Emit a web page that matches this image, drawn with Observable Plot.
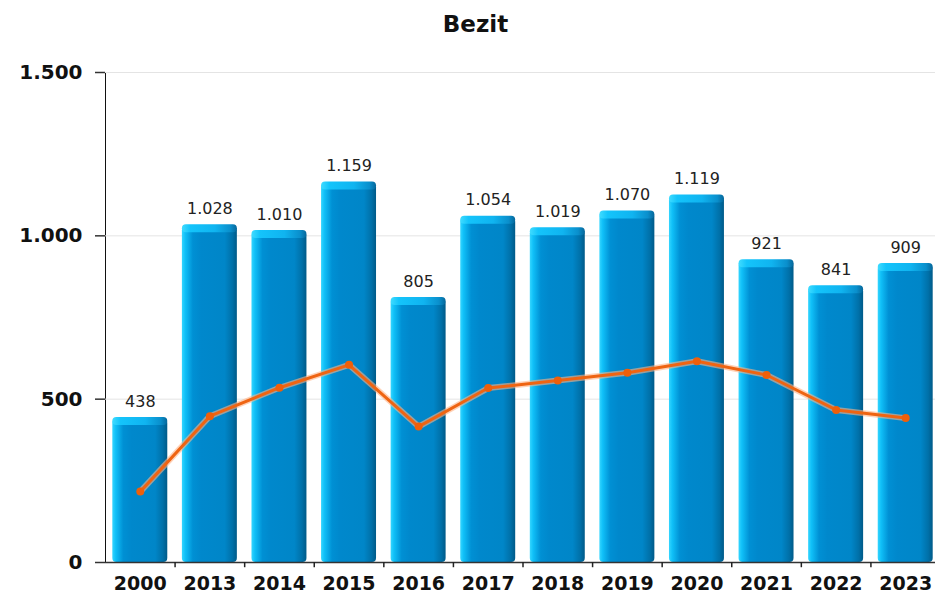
<!DOCTYPE html>
<html>
<head>
<meta charset="utf-8">
<script src="https://cdn.jsdelivr.net/npm/d3@7"></script>
<script src="https://cdn.jsdelivr.net/npm/@observablehq/plot@0.6"></script>
<style>
  body { margin: 0; background: #fff; width: 935px; height: 595px; overflow: hidden; }
  #title { height: 48px; box-sizing: border-box; padding-top: 10px; padding-left: 16px; text-align: center;
           font-family: "DejaVu Sans", sans-serif; font-weight: bold; font-size: 23px; color: #111; line-height: 28px; }
  #chart svg { display: block; }
</style>
</head>
<body>
<div id="title">Bezit</div>
<div id="chart"></div>
<script>
const years = ["2000","2013","2014","2015","2016","2017","2018","2019","2020","2021","2022","2023"];
const totals = [438, 1028, 1010, 1159, 805, 1054, 1019, 1070, 1119, 921, 841, 909];
const lineValues = [217, 448, 535, 605, 416, 534, 557, 581, 616, 574, 467, 442];
const yTicks = [0, 500, 1000, 1500];

const data = years.map((year, i) => ({year, total: totals[i], line: lineValues[i]}));
const fmt = d3.formatLocale({decimal: ",", thousands: ".", grouping: [3], currency: ["", ""]}).format(",d");

const step = (940 - 105) / years.length;

const chart = Plot.plot({
  width: 935,
  height: 547,
  marginTop: 24,
  marginBottom: 33,
  marginLeft: 105,
  marginRight: 0,
  style: {fontFamily: "DejaVu Sans, sans-serif", fontSize: "20px", fontWeight: "bold", background: "white", color: "#111"},
  x: {domain: years, range: [105, 940], round: false, paddingInner: 0.21, paddingOuter: 0.105, align: 0.5, label: null, tickSize: 0, tickPadding: 14},
  y: {domain: [0, 1500], ticks: yTicks, tickFormat: fmt, tickSize: 10, tickPadding: 13, label: null, line: true},
  marks: [
    Plot.ruleY(yTicks.slice(1), {stroke: "#e4e4e4", strokeWidth: 1}),
    Plot.barY(data, {x: "year", y: "total", fill: "url(#barGrad)", rx: 4}),
    Plot.barY(data, {x: "year", y1: "total", y2: "total", insetTop: -2, insetBottom: -6, fill: "url(#capGrad)", rx: 4}),
    Plot.ruleY([0], {stroke: "#333", strokeWidth: 1.5}),
    Plot.ruleX(years.slice(1), {x: d => d, y1: 0, y2: -16, dx: -step / 2, stroke: "#222", strokeWidth: 1.5}),
    Plot.text(data, {x: "year", y: "total", text: d => fmt(d.total), dy: -18, fontSize: 16, fontWeight: "normal", fill: "#222"}),
    Plot.line(data, {x: "year", y: "line", stroke: "#ffb285", strokeWidth: 6, strokeOpacity: 0.6}),
    Plot.line(data, {x: "year", y: "line", stroke: "#ef6412", strokeWidth: 3}),
    Plot.dot(data, {x: "year", y: "line", r: 4, fill: "#ee5f0a", stroke: "none"})
  ]
});

const svg = d3.select(chart);
const defs = svg.insert("defs", ":first-child");
const g1 = defs.append("linearGradient").attr("id", "barGrad").attr("x1", 0).attr("x2", 1).attr("y1", 0).attr("y2", 0);
[[0, "#35d6ff"], [0.06, "#10c0f8"], [0.2, "#0090d4"], [0.35, "#0088cc"], [0.78, "#0086c8"], [0.92, "#0070a8"], [1, "#005a88"]]
  .forEach(([o, c]) => g1.append("stop").attr("offset", o).attr("stop-color", c));
const g2 = defs.append("linearGradient").attr("id", "capGrad").attr("x1", 0).attr("x2", 1).attr("y1", 0).attr("y2", 0);
[[0, "#40dcff"], [0.15, "#14c4fb"], [0.6, "#10b4f0"], [0.88, "#0a8fcc"], [1, "#06679a"]]
  .forEach(([o, c]) => g2.append("stop").attr("offset", o).attr("stop-color", c));

svg.selectAll('[aria-label="y-axis"] path, [aria-label="y-axis tick"] path').attr("stroke", "#333").attr("stroke-width", 1.5);
svg.selectAll('[aria-label="x-axis tick label"], [aria-label="x-axis"] text').attr("font-size", 19);
document.getElementById("chart").appendChild(chart);
</script>
</body>
</html>
